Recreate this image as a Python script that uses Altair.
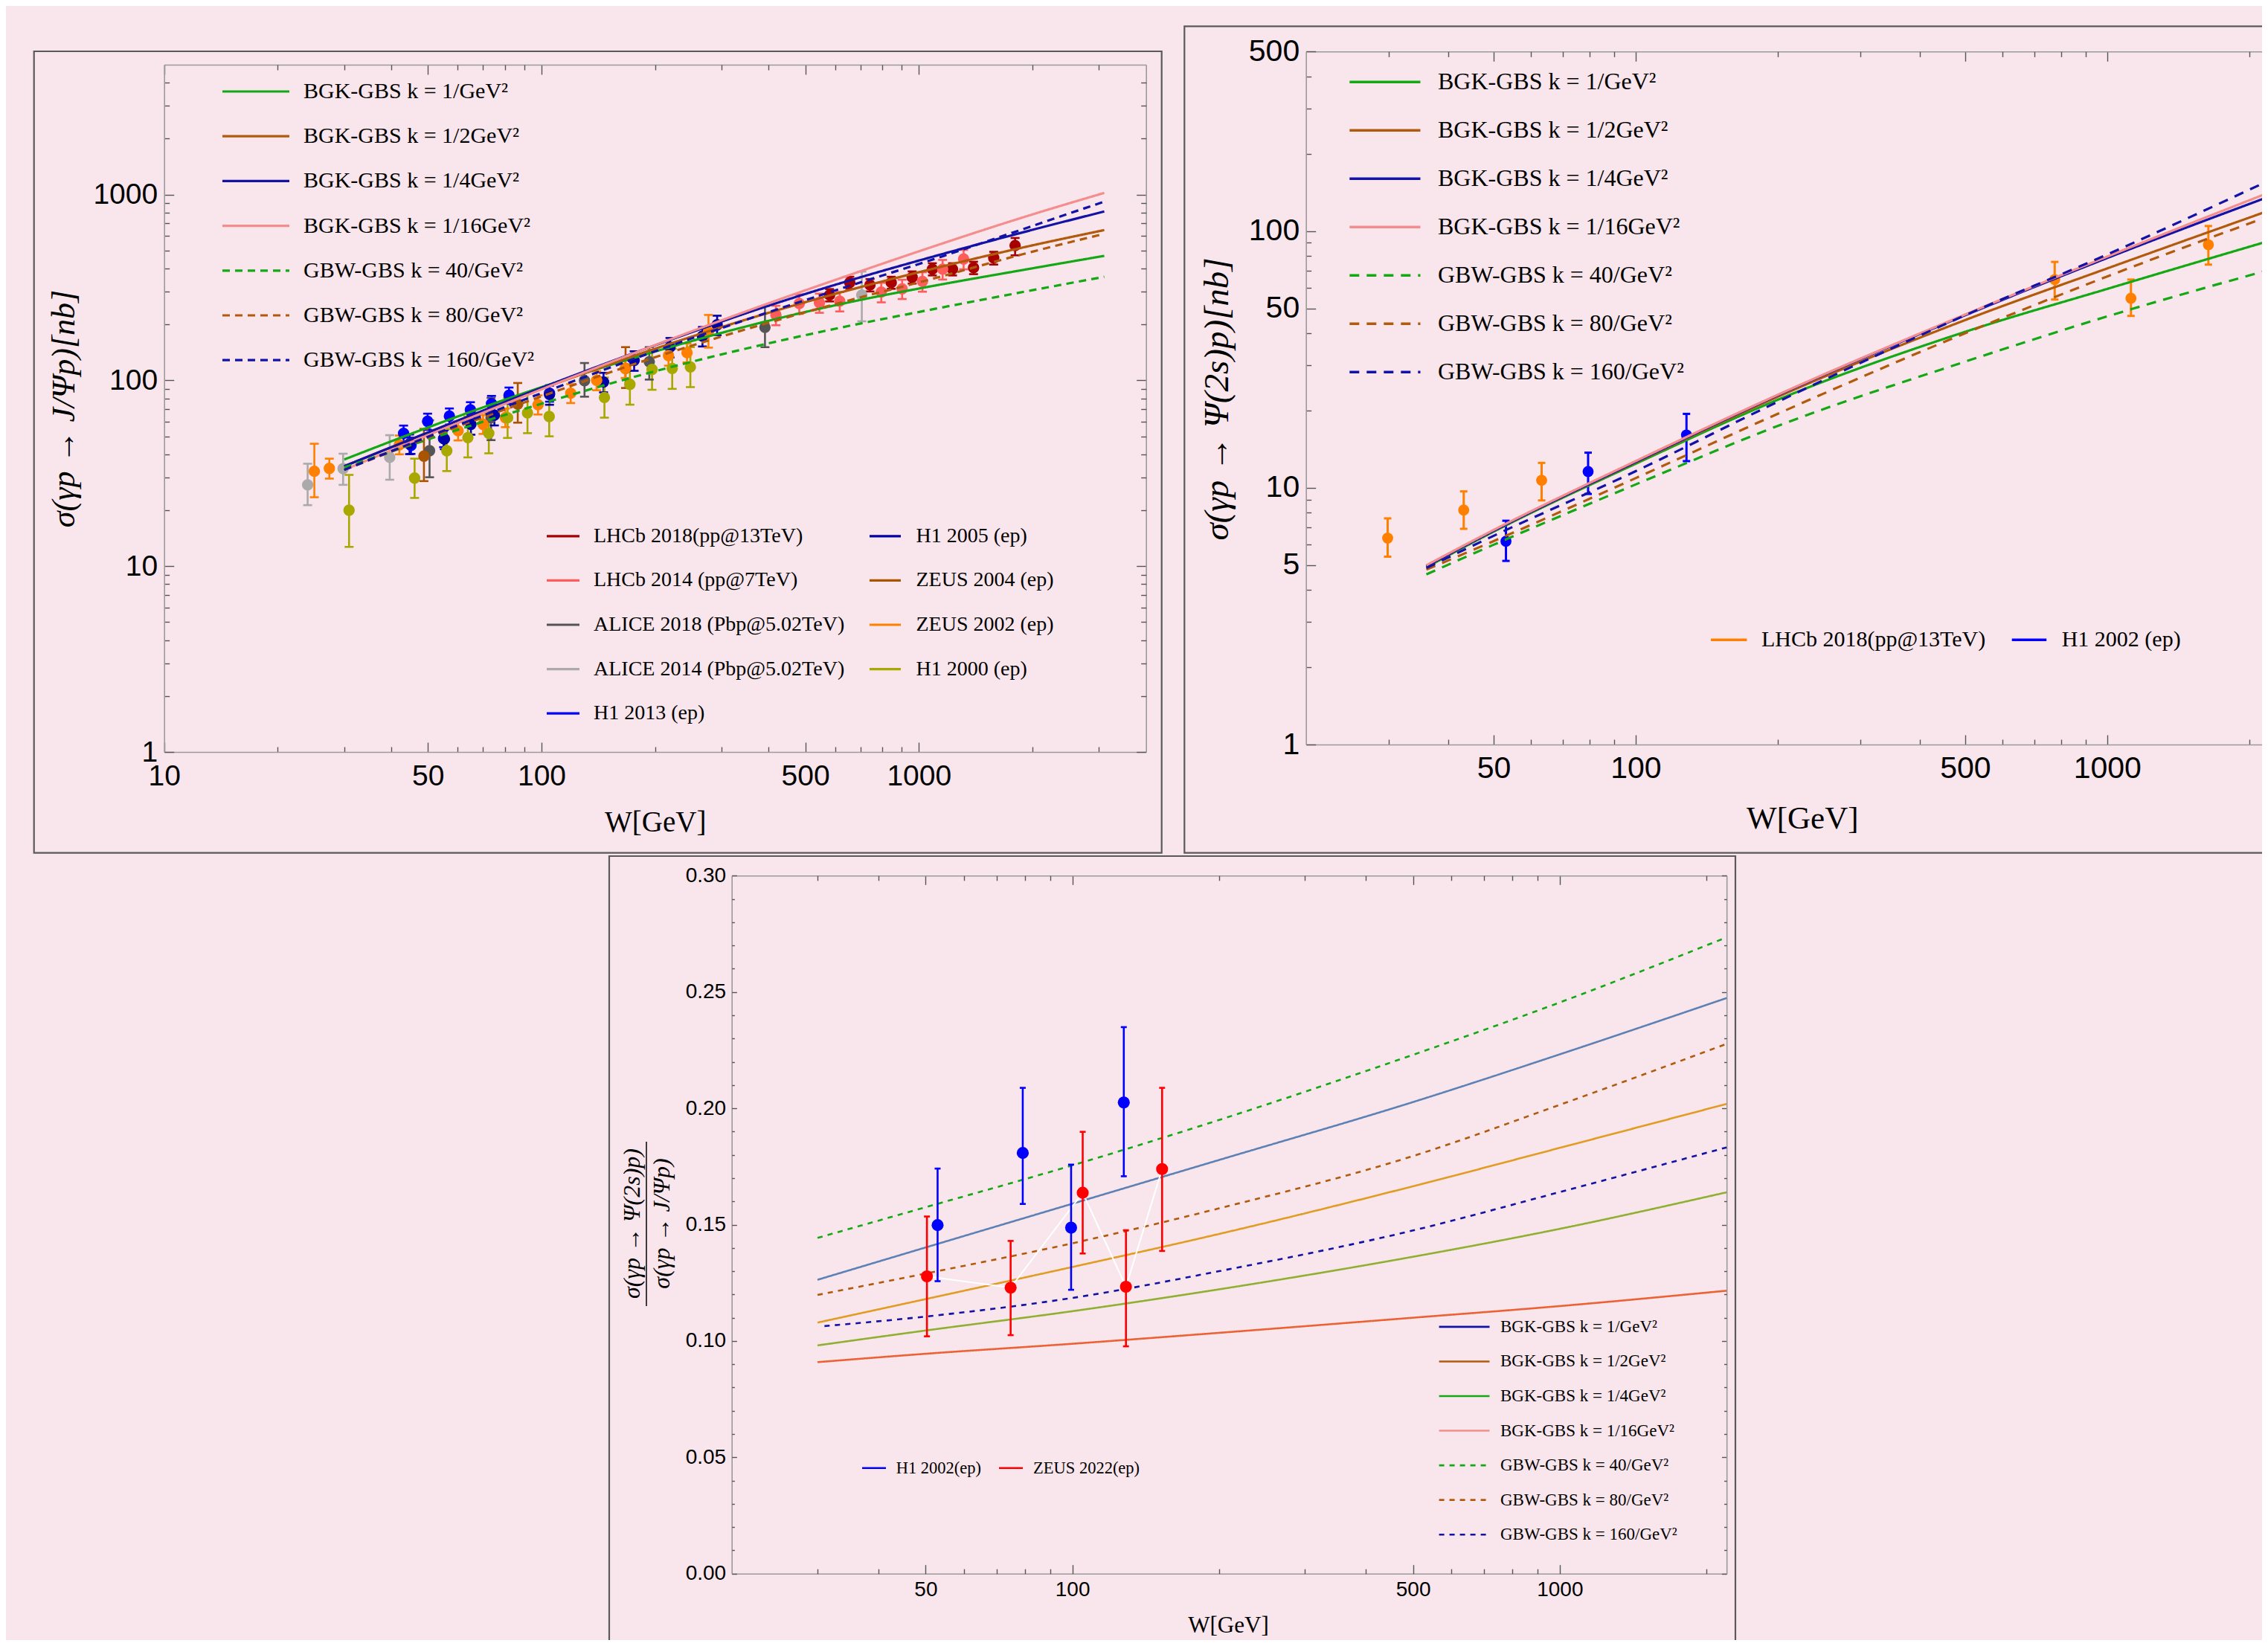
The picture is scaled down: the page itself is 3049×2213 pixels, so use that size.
import altair as alt
import pandas as pd

# ===================== DATA =====================
MODEL_NAMES = ["BGK-GBS k = 1/GeV²", "BGK-GBS k = 1/2GeV²", "BGK-GBS k = 1/4GeV²",
               "BGK-GBS k = 1/16GeV²", "GBW-GBS k = 40/GeV²", "GBW-GBS k = 80/GeV²",
               "GBW-GBS k = 160/GeV²"]
MODEL_COLORS = ["#14A814", "#B25A0C", "#1212A6", "#F48E8E", "#14A814", "#B25A0C", "#1212A6"]
BT_LEGEND_COLORS = ["#1212A6", "#B25A0C", "#14A814", "#F48E8E", "#14A814", "#B25A0C", "#1212A6"]
MODEL_SOLID = [True, True, True, True, False, False, False]

# --- top-left: sigma(gamma p -> J/Psi p) [nb]
TL_W = [30, 50, 100, 200, 391, 706, 1000, 2000, 3100]
TL_CURVES = [
    [37.5, 55.8, 91.9, 143, 207, 272, 312, 401, 468],
    [34.5, 52.4, 90, 148, 228, 319, 382, 533, 644],
    [34.5, 52.4, 91.2, 154.4, 248.6, 360.7, 441.4, 646, 811],
    [33, 50.7, 89.5, 154.8, 255.9, 389, 495, 782, 1021],
    [34, 48.1, 74.9, 112, 156.6, 203, 233.4, 305.8, 361],
    [33, 49.1, 82, 133.2, 201.8, 281, 336.7, 493, 615],
    [33, 49.7, 85.3, 143.5, 229.3, 338.7, 423, 678, 917],
]

TL_SET_NAMES = ["LHCb 2018(pp@13TeV)", "LHCb 2014 (pp@7TeV)", "ALICE 2018 (Pbp@5.02TeV)",
                "ALICE 2014 (Pbp@5.02TeV)", "H1 2013 (ep)", "H1 2005 (ep)", "ZEUS 2004 (ep)",
                "ZEUS 2002 (ep)", "H1 2000 (ep)"]
TL_SET_COLORS = ["#A80000", "#FF5C5C", "#555555", "#AAAAAA", "#0000FF", "#0000A8",
                 "#A85400", "#FF8000", "#A8A800"]

LHCB18_W = [580, 656, 742, 845, 960, 1086, 1228, 1396, 1579, 1799]
LHCB18_S = [288, 336, 326, 336, 359, 397, 397, 404, 456, 532]
LHCB18_LO = [266, 311, 301, 311, 332, 367, 367, 373, 420, 471]
LHCB18_HI = [310, 361, 351, 361, 386, 427, 427, 435, 492, 584]

LHCB14_W = [418, 482, 545, 617, 795, 903, 1022, 1156, 1314]
LHCB14_S = [225, 259, 262, 267, 299, 311, 341, 397, 450]
LHCB14_LO = [198, 228, 231, 235, 263, 274, 300, 349, 396]
LHCB14_HI = [252, 290, 293, 299, 335, 348, 382, 445, 504]

ALICE18_W = [50.5, 73.5, 130, 193, 391]
ALICE18_S = [41.8, 62.9, 99.7, 126, 193]
ALICE18_LO = [30.1, 47.7, 81.7, 101, 151]
ALICE18_HI = [61, 80.5, 124, 151, 251]

ALICE14_W = [24, 29.8, 39.6, 706]
ALICE14_S = [27.4, 33.5, 38.5, 288]
ALICE14_LO = [21.3, 27.4, 29.2, 208]
ALICE14_HI = [35.6, 40.3, 50.7, 385]

H113_W = [43.1, 45.1, 49.9, 55.0, 57.0, 64.8, 73.7, 82.0, 105]
H113_S = [51.9, 44.7, 60.2, 48.6, 64.2, 69.4, 75.0, 83.2, 85.3]
H113_LO = [46.7, 40.2, 54.2, 43.7, 57.8, 62.5, 67.5, 74.9, 76.8]
H113_HI = [57.1, 49.2, 66.2, 53.5, 70.6, 76.3, 82.5, 91.5, 93.8]

H105_W = [44.7, 55.3, 65, 75, 105, 146, 176, 219, 267, 292]
H105_S = [45.6, 48.4, 58, 65, 84, 98, 128, 151, 173, 199]
H105_LO = [40.1, 42.6, 51.0, 57.2, 73.9, 86.2, 112.6, 132.9, 152.2, 175.1]
H105_HI = [51.1, 54.2, 65.0, 72.8, 94.1, 109.8, 143.4, 169.1, 193.8, 222.9]

ZEUS04_W = [48.8, 86.5, 167]
ZEUS04_S = [39.1, 74.5, 116]
ZEUS04_LO = [28.7, 59.2, 91]
ZEUS04_HI = [54.8, 96.8, 151]

ZEUS02_W = [25.0, 27.4, 42, 60.1, 70, 80.2, 97.9, 119.5, 140, 166.6, 217, 243, 277]
ZEUS02_S = [32.4, 33.6, 45, 53.6, 58, 63, 74, 85.3, 100, 116, 136, 141, 183]
ZEUS02_LO = [23.5, 29.6, 40, 47.5, 51.5, 56, 65.5, 75.5, 88.5, 103, 120, 125, 150]
ZEUS02_HI = [45.6, 37.9, 50.5, 60, 65, 70.5, 83, 95.5, 112, 130, 152, 158, 225]

H100_W = [30.9, 46.1, 56.1, 63.8, 72.5, 81.3, 91.8, 104.8, 146.8, 171.5, 196.3, 222, 248]
H100_S = [20.0, 29.8, 41.8, 49.2, 51.9, 62.9, 66.8, 63.9, 80.9, 95.2, 114.5, 116, 118]
H100_LO = [12.7, 23.3, 32.5, 38.5, 40.5, 49, 52, 50, 63, 74, 89, 90, 92]
H100_HI = [31.0, 37.9, 54.8, 63.9, 66.5, 80.5, 85.5, 81.5, 103.5, 122, 146, 148, 151]

# --- top-right: sigma(gamma p -> Psi(2s) p) [nb]
TR_W = [36, 50, 100, 200, 500, 1000, 2200]
TR_CURVES = [
    [4.9, 6.75, 12.4, 22.0, 40.5, 59.5, 91.4],
    [4.95, 6.8, 12.55, 22.6, 45.0, 71.5, 120],
    [4.95, 6.8, 12.6, 22.9, 47.0, 78.5, 136],
    [4.99, 6.85, 12.7, 23.0, 47.3, 79.5, 141],
    [4.6, 6.0, 10.3, 17.4, 31.0, 46.5, 70.5],
    [4.8, 6.2, 10.9, 19.4, 40.0, 66.5, 114],
    [4.87, 6.5, 11.6, 21.6, 47.0, 81, 157],
]
TR_SET_NAMES = ["LHCb 2018(pp@13TeV)", "H1 2002 (ep)"]
TR_SET_COLORS = ["#FF8000", "#0000FF"]
TR_LHCB_W = [29.8, 43.2, 63.2, 774, 1123, 1639]
TR_LHCB_S = [6.37, 8.19, 10.7, 64.7, 54.7, 88.4]
TR_LHCB_LO = [5.39, 6.92, 8.93, 54.1, 46.7, 74.0]
TR_LHCB_HI = [7.6, 9.68, 12.5, 75.8, 64.7, 104.6]
TR_H1_W = [53.1, 79.3, 128.2]
TR_H1_S = [6.19, 11.57, 16.05]
TR_H1_LO = [5.19, 9.46, 12.7]
TR_H1_HI = [7.44, 13.7, 19.4]

# --- bottom: ratio Psi(2s) / J/Psi
BT_W = [30, 50, 100, 200, 500, 1000, 2200]
BT_W_160 = [31, 50, 100, 200, 500, 1000, 2200]
BT_CURVES = [
    [0.1263, 0.1402, 0.1590, 0.1778, 0.2027, 0.2232, 0.2474],
    [0.1079, 0.1180, 0.1318, 0.1460, 0.1665, 0.1830, 0.2019],
    [0.0981, 0.1045, 0.1128, 0.1222, 0.1362, 0.1482, 0.1639],
    [0.0909, 0.0945, 0.0988, 0.1035, 0.1100, 0.1150, 0.1216],
    [0.1443, 0.1575, 0.1755, 0.1950, 0.2230, 0.2455, 0.2735],
    [0.1198, 0.1290, 0.1420, 0.1570, 0.1795, 0.2015, 0.2277],
    [0.1064, 0.1105, 0.1185, 0.1300, 0.1475, 0.1640, 0.1832],
]
BT_CURVE_COLORS = ["#5E81B5", "#E19C24", "#8FB032", "#EB6235", "#14A814", "#B25A0C", "#1212A6"]
BT_SET_NAMES = ["H1 2002(ep)", "ZEUS 2022(ep)"]
BT_SET_COLORS = ["#0000FF", "#FF0000"]
BT_H1_W = [52.9, 79.1, 99.4, 127.5]
BT_H1_R = [0.1498, 0.1808, 0.1487, 0.2025]
BT_H1_LO = [0.1257, 0.1589, 0.1220, 0.1708]
BT_H1_HI = [0.1741, 0.2088, 0.1758, 0.2349]
BT_ZEUS_W = [50.3, 74.7, 105, 128.8, 152.8]
BT_ZEUS_R = [0.1278, 0.1229, 0.1637, 0.1233, 0.1739]
BT_ZEUS_LO = [0.1020, 0.1025, 0.1376, 0.0977, 0.1387]
BT_ZEUS_HI = [0.1535, 0.1430, 0.1899, 0.1476, 0.2088]
BT_TITLE_NUM = "σ(γp → Ψ(2s)p)"
BT_TITLE_DEN = "σ(γp → J/Ψp)"

# tick values
TL_X_MAJOR = [10, 50, 100, 500, 1000]
TL_X_MINOR = [20, 30, 40, 60, 70, 80, 90, 200, 300, 400, 600, 700, 800, 900, 2000, 3000]
TL_Y_MAJOR = [1, 10, 100, 1000]
TL_Y_MINOR = [2, 3, 4, 5, 6, 7, 8, 9, 20, 30, 40, 50, 60, 70, 80, 90,
              200, 300, 400, 500, 600, 700, 800, 900, 2000, 3000, 4000]
TR_X_MAJOR = [50, 100, 500, 1000]
TR_X_MINOR = [30, 40, 60, 70, 80, 90, 200, 300, 400, 600, 700, 800, 900, 2000]
TR_Y_MAJOR = [1, 5, 10, 50, 100, 500]
TR_Y_MINOR = [2, 3, 4, 6, 7, 8, 9, 20, 30, 40, 60, 70, 80, 90, 200, 300, 400]
BT_X_MAJOR = [50, 100, 500, 1000]
BT_X_MINOR = [30, 40, 60, 70, 80, 90, 200, 300, 400, 600, 700, 800, 900, 2000]
BT_Y_MAJOR = [0.0, 0.05, 0.10, 0.15, 0.20, 0.25, 0.30]
BT_Y_MINOR = [0.01, 0.02, 0.03, 0.04, 0.06, 0.07, 0.08, 0.09, 0.11, 0.12, 0.13, 0.14,
              0.16, 0.17, 0.18, 0.19, 0.21, 0.22, 0.23, 0.24, 0.26, 0.27, 0.28, 0.29]

# ===================== LAYOUT / STYLE =====================
VW, VH = 3033, 2197
M = 8
BG = "#F9E6EC"
SANS = "Liberation Sans"
SERIF = "Liberation Serif"
FRAME = "#9A9A9A"
TICK = "#555555"


def v(p):
    return p - M


GEOM = {
    "tl": dict(x0=220.7, x1=1540.7, y0=87.0, y1=1011.0, xdom=[10, 4000], ydom=[1, 5000], ylog=True),
    "tr": dict(x0=1755.7, x1=3085.1, y0=69.3, y1=1001.0, xdom=[20, 2500], ydom=[1, 500], ylog=True),
    "bt": dict(x0=983.7, x1=2321.2, y0=1177.3, y1=2115.7, xdom=[20, 2200], ydom=[0, 0.30], ylog=False),
}


def sx(g):
    return alt.Scale(type="log", domain=g["xdom"], range=[v(g["x0"]), v(g["x1"])], nice=False)


def sy(g):
    if g["ylog"]:
        return alt.Scale(type="log", domain=g["ydom"], range=[v(g["y1"]), v(g["y0"])], nice=False)
    return alt.Scale(type="linear", domain=g["ydom"], range=[v(g["y1"]), v(g["y0"])],
                     nice=False, zero=False)


def lab_x(g, vals, fmt, fs, pad, title, tfs, tcx, tcy):
    return alt.Axis(orient="bottom", offset=v(g["y1"]) - VH, values=vals, format=fmt,
                    labelFont=SANS, labelFontSize=fs, labelColor="black", labelPadding=pad,
                    labelFlush=False, labelOverlap=False, labelBound=False,
                    ticks=False, tickSize=0, domain=True, domainColor=FRAME, domainWidth=1.6,
                    grid=False, title=title, titleFont=SERIF, titleFontSize=tfs,
                    titleFontWeight="normal", titleColor="black", titleX=v(tcx),
                    titleY=tcy - g["y1"], titleAlign="center", titleBaseline="middle", titleAngle=0)


def lab_y(g, vals, fmt, fs, pad, title, tfs, tcx, tcy):
    if title:
        kw = dict(title=title, titleFont=SERIF, titleFontSize=tfs, titleFontWeight="normal",
                  titleFontStyle="italic", titleColor="black", titleX=tcx - g["x0"],
                  titleY=v(tcy), titleAlign="center", titleBaseline="middle", titleAngle=270)
    else:
        kw = dict(title=None)
    return alt.Axis(orient="left", offset=-v(g["x0"]), values=vals, format=fmt,
                    labelFont=SANS, labelFontSize=fs, labelColor="black", labelPadding=pad,
                    labelFlush=False, labelOverlap=False, labelBound=False,
                    ticks=False, tickSize=0, domain=True, domainColor=FRAME, domainWidth=1.6,
                    grid=False, **kw)


def tk_x(g, vals, size, edge, dom=False):
    if edge == "bottom":
        orient, off = "top", -v(g["y1"])
    else:
        orient, off = "bottom", v(g["y0"]) - VH
    return alt.Axis(orient=orient, offset=off, values=vals, labels=False, ticks=True,
                    tickSize=size, tickColor=TICK, tickWidth=1.4, domain=dom,
                    domainColor=FRAME, domainWidth=1.6, grid=False, title=None)


def tk_y(g, vals, size, edge, dom=False):
    if edge == "left":
        orient, off = "right", v(g["x0"]) - VW
    else:
        orient, off = "left", -v(g["x1"])
    return alt.Axis(orient=orient, offset=off, values=vals, labels=False, ticks=True,
                    tickSize=size, tickColor=TICK, tickWidth=1.4, domain=dom,
                    domainColor=FRAME, domainWidth=1.6, grid=False, title=None)


def tick_axes(g, xmaj, xmin, ymaj, ymin, xs_maj, xs_min, ys_maj, ys_min):
    return [
        (tk_x(g, xmaj, xs_maj, "bottom"), tk_y(g, ymaj, ys_maj, "left")),
        (tk_x(g, xmin, xs_min, "bottom"), tk_y(g, ymin, ys_min, "left")),
        (tk_x(g, xmaj, xs_maj, "top", True), tk_y(g, ymaj, ys_maj, "right", True)),
        (tk_x(g, xmin, xs_min, "top"), tk_y(g, ymin, ys_min, "right")),
    ]


def curves_df(ws_list, curves, names):
    rows = []
    for ws, name, vals in zip(ws_list, names, curves):
        for w, y in zip(ws, vals):
            rows.append({"W": w, "v": y, "model": name})
    return pd.DataFrame(rows)


def sets_df(sets):
    rows = []
    for name, ws, ss, lo, hi in sets:
        for w, s, l, h in zip(ws, ss, lo, hi):
            rows.append({"W": w, "s": s, "lo": l, "hi": h, "set": name})
    return pd.DataFrame(rows)


def curve_layer(g, df, names, colors, dashes, width, xaxis, yaxis):
    return alt.Chart(df).mark_line(strokeWidth=width, interpolate="monotone").encode(
        x=alt.X("W:Q", scale=sx(g), axis=xaxis),
        y=alt.Y("v:Q", scale=sy(g), axis=yaxis),
        color=alt.Color("model:N", scale=alt.Scale(domain=names, range=colors), legend=None),
        strokeDash=alt.StrokeDash("model:N", scale=alt.Scale(domain=names, range=dashes), legend=None),
    )


def data_layers(g, df, names, colors, axes, pt_size, cap, bar):
    cs = alt.Scale(domain=names, range=colors)
    col = alt.Color("set:N", scale=cs, legend=None)
    rules = alt.Chart(df).mark_rule(strokeWidth=bar, opacity=1).encode(
        x=alt.X("W:Q", scale=sx(g), axis=axes[0][0]),
        y=alt.Y("lo:Q", scale=sy(g), axis=axes[0][1]), y2="hi:Q", color=col)
    cap_lo = alt.Chart(df).mark_tick(orient="horizontal", size=cap, thickness=bar, opacity=1).encode(
        x=alt.X("W:Q", scale=sx(g), axis=axes[1][0]),
        y=alt.Y("lo:Q", scale=sy(g), axis=axes[1][1]), color=col)
    cap_hi = alt.Chart(df).mark_tick(orient="horizontal", size=cap, thickness=bar, opacity=1).encode(
        x=alt.X("W:Q", scale=sx(g), axis=axes[2][0]),
        y=alt.Y("hi:Q", scale=sy(g), axis=axes[2][1]), color=col)
    pts = alt.Chart(df).mark_circle(size=pt_size, opacity=1).encode(
        x=alt.X("W:Q", scale=sx(g), axis=axes[3][0]),
        y=alt.Y("s:Q", scale=sy(g), axis=axes[3][1]), color=col)
    return [rules, cap_lo, cap_hi, pts]


def legend(labels, colors, dashes, x0, x1, tx, ys, lw, fs):
    n = len(labels)
    df = pd.DataFrame({"label": labels, "row": list(range(n))})
    if n > 1:
        ysc = alt.Scale(domain=[0, n - 1], range=[v(ys[0]), v(ys[1])])
    else:
        ysc = alt.Scale(domain=[0, 1], range=[v(ys[0]), v(ys[0]) + 10])
    y = alt.Y("row:Q", scale=ysc, axis=None)
    line = alt.Chart(df).mark_rule(strokeWidth=lw).encode(
        x=alt.value(v(x0)), x2=alt.value(v(x1)), y=y,
        color=alt.Color("label:N", scale=alt.Scale(domain=labels, range=colors), legend=None),
        strokeDash=alt.StrokeDash("label:N", scale=alt.Scale(domain=labels, range=dashes), legend=None))
    txt = alt.Chart(df).mark_text(align="left", baseline="middle", font=SERIF, fontSize=fs,
                                  color="black").encode(x=alt.value(v(tx)), y=y, text="label:N")
    return [line, txt]


def box(x0, y0, x1, y1, color="#5A5A5A", w=2.2):
    return alt.Chart(pd.DataFrame({"k": [0]})).mark_rect(
        fillOpacity=0, stroke=color, strokeWidth=w).encode(
        x=alt.value(v(x0)), x2=alt.value(v(x1)), y=alt.value(v(y0)), y2=alt.value(v(y1)))


def rot_text(t, cx, cy, fs):
    return alt.Chart(pd.DataFrame({"t": [t]})).mark_text(
        angle=270, align="center", baseline="middle", font=SERIF, fontSize=fs,
        fontStyle="italic", color="black"
    ).encode(x=alt.value(v(cx)), y=alt.value(v(cy)), text="t:N")


layers = []
# panel frames
layers.append(box(45.7, 69.0, 1561.7, 1146.7))
layers.append(box(1592.3, 35.3, 3200, 1146.7))
layers.append(box(819.0, 1151.0, 2333.0, 2400))

# ---------------- TOP-LEFT ----------------
g = GEOM["tl"]
dash_tl = [[1, 0] if s else [10, 7] for s in MODEL_SOLID]
tl_sets = [
    (TL_SET_NAMES[0], LHCB18_W, LHCB18_S, LHCB18_LO, LHCB18_HI),
    (TL_SET_NAMES[1], LHCB14_W, LHCB14_S, LHCB14_LO, LHCB14_HI),
    (TL_SET_NAMES[2], ALICE18_W, ALICE18_S, ALICE18_LO, ALICE18_HI),
    (TL_SET_NAMES[3], ALICE14_W, ALICE14_S, ALICE14_LO, ALICE14_HI),
    (TL_SET_NAMES[4], H113_W, H113_S, H113_LO, H113_HI),
    (TL_SET_NAMES[5], H105_W, H105_S, H105_LO, H105_HI),
    (TL_SET_NAMES[6], ZEUS04_W, ZEUS04_S, ZEUS04_LO, ZEUS04_HI),
    (TL_SET_NAMES[7], ZEUS02_W, ZEUS02_S, ZEUS02_LO, ZEUS02_HI),
    (TL_SET_NAMES[8], H100_W, H100_S, H100_LO, H100_HI),
]
ax = tick_axes(g, TL_X_MAJOR, TL_X_MINOR, TL_Y_MAJOR, TL_Y_MINOR, 13, 7, 13, 7)
layers += data_layers(g, sets_df(tl_sets), TL_SET_NAMES, TL_SET_COLORS, ax, 235, 12, 2.6)
layers.append(curve_layer(
    g, curves_df([TL_W] * 7, TL_CURVES, MODEL_NAMES), MODEL_NAMES, MODEL_COLORS, dash_tl, 3.2,
    lab_x(g, TL_X_MAJOR, "~g", 39, 13, "W[GeV]", 39, 880.7, 1105.0),
    lab_y(g, TL_Y_MAJOR, "~g", 39, 9, "σ(γp → J/Ψp)[nb]", 44, 86.8, 549.0)))
layers += legend(MODEL_NAMES, MODEL_COLORS, dash_tl, 299, 389, 408, [123, 484.2], 3.2, 30)
left_idx = [0, 1, 2, 3, 4]
right_idx = [5, 6, 7, 8]
layers += legend([TL_SET_NAMES[i] for i in left_idx], [TL_SET_COLORS[i] for i in left_idx],
                 [[1, 0]] * 5, 735, 779, 798, [720.8, 959.2], 3.2, 28)
layers += legend([TL_SET_NAMES[i] for i in right_idx], [TL_SET_COLORS[i] for i in right_idx],
                 [[1, 0]] * 4, 1169, 1211, 1231.5, [720.8, 899.6], 3.2, 28)

# ---------------- TOP-RIGHT ----------------
g = GEOM["tr"]
dash_tr = [[1, 0] if s else [13, 10] for s in MODEL_SOLID]
tr_sets = [
    (TR_SET_NAMES[0], TR_LHCB_W, TR_LHCB_S, TR_LHCB_LO, TR_LHCB_HI),
    (TR_SET_NAMES[1], TR_H1_W, TR_H1_S, TR_H1_LO, TR_H1_HI),
]
ax = tick_axes(g, TR_X_MAJOR, TR_X_MINOR, TR_Y_MAJOR, TR_Y_MINOR, 13, 7, 13, 7)
layers += data_layers(g, sets_df(tr_sets), TR_SET_NAMES, TR_SET_COLORS, ax, 220, 10, 3)
layers.append(curve_layer(
    g, curves_df([TR_W] * 7, TR_CURVES, MODEL_NAMES), MODEL_NAMES, MODEL_COLORS, dash_tr, 3.2,
    lab_x(g, TR_X_MAJOR, "~g", 41, 12, "W[GeV]", 43, 2422.8, 1100.6),
    lab_y(g, TR_Y_MAJOR, "~g", 41, 9, "σ(γp → Ψ(2s)p)[nb]", 47, 1636.5, 536.0)))
layers += legend(MODEL_NAMES, MODEL_COLORS, dash_tr, 1814.3, 1909.5, 1933, [110.3, 500.3], 3.4, 32)
layers += legend([TR_SET_NAMES[0]], [TR_SET_COLORS[0]], [[1, 0]], 2300, 2348.4, 2367.9, [860.2], 3.4, 30)
layers += legend([TR_SET_NAMES[1]], [TR_SET_COLORS[1]], [[1, 0]], 2704.7, 2751.2, 2771.7, [860.2], 3.4, 30)

# ---------------- BOTTOM ----------------
g = GEOM["bt"]
dash_bt = [[1, 0] if s else [7, 7] for s in MODEL_SOLID]
bt_sets = [
    (BT_SET_NAMES[0], BT_H1_W, BT_H1_R, BT_H1_LO, BT_H1_HI),
    (BT_SET_NAMES[1], BT_ZEUS_W, BT_ZEUS_R, BT_ZEUS_LO, BT_ZEUS_HI),
]
layers.append(curve_layer(
    g, curves_df([BT_W] * 6 + [BT_W_160], BT_CURVES, MODEL_NAMES), MODEL_NAMES, BT_CURVE_COLORS,
    dash_bt, 2.6,
    lab_x(g, BT_X_MAJOR, "~g", 28, 8, "W[GeV]", 31, 1651.0, 2185.6),
    lab_y(g, BT_Y_MAJOR, ".2f", 28, 8, None, 27, 0, 0)))
zeus_line = pd.DataFrame({"W": BT_ZEUS_W, "r": BT_ZEUS_R})
layers.append(alt.Chart(zeus_line).mark_line(color="white", strokeWidth=2).encode(
    x=alt.X("W:Q", scale=sx(g), axis=None), y=alt.Y("r:Q", scale=sy(g), axis=None)))
ax = tick_axes(g, BT_X_MAJOR, BT_X_MINOR, BT_Y_MAJOR, BT_Y_MINOR, 12, 6.5, 6.7, 3.7)
layers += data_layers(g, sets_df(bt_sets), BT_SET_NAMES, BT_SET_COLORS, ax, 260, 8, 2.6)
# ratio title: numerator / bar / denominator
layers.append(rot_text(BT_TITLE_NUM, 850.0, 1645.0, 32))
layers.append(rot_text(BT_TITLE_DEN, 889.5, 1645.0, 32))
layers.append(alt.Chart(pd.DataFrame({"k": [0]})).mark_rule(color="black", strokeWidth=1.5).encode(
    x=alt.value(v(869)), y=alt.value(v(1535)), y2=alt.value(v(1756))))
layers += legend(MODEL_NAMES, BT_LEGEND_COLORS, dash_bt, 1934.6, 2002.5, 2017, [1783.9, 2063.2], 2.6, 23)
layers += legend([BT_SET_NAMES[0]], [BT_SET_COLORS[0]], [[1, 0]], 1159, 1191, 1204.7, [1973.7], 2.6, 22.5)
layers += legend([BT_SET_NAMES[1]], [BT_SET_COLORS[1]], [[1, 0]], 1343, 1375, 1389, [1973.7], 2.6, 22.5)

chart = alt.layer(*layers).resolve_scale(
    x="independent", y="independent", color="independent", strokeDash="independent"
).resolve_axis(x="independent", y="independent").properties(
    width=VW, height=VH, padding=0, background=BG,
    autosize=alt.AutoSizeParams(type="none"),
).configure_view(strokeWidth=0)

chart.save("out.html", embed_options={"renderer": "svg", "actions": False})
